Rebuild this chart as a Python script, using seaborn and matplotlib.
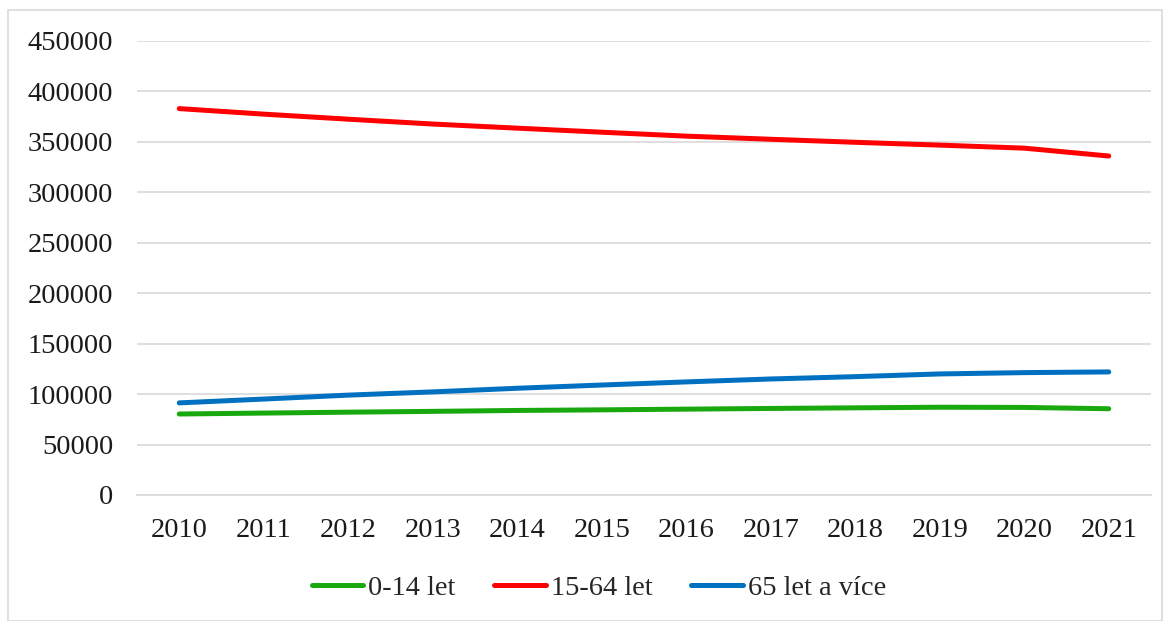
import matplotlib
matplotlib.use("Agg")
import matplotlib.pyplot as plt
import seaborn as sns
import pandas as pd
from matplotlib.patches import Rectangle
from matplotlib.lines import Line2D

years = [2010, 2011, 2012, 2013, 2014, 2015, 2016, 2017, 2018, 2019, 2020, 2021]
age_0_14 = [80300, 81200, 82100, 82900, 83800, 84400, 85100, 85800, 86400, 87000, 86800, 85500]
age_15_64 = [383000, 377500, 372500, 367700, 363600, 359600, 355700, 352600, 349600, 346800, 343800, 336000]
age_65 = [91300, 95100, 99000, 102200, 105800, 109000, 112100, 115000, 117300, 120000, 121300, 122000]
series_names = ["0-14 let", "15-64 let", "65 let a více"]
colors = ["#1aa80f", "#ff0000", "#0070c0"]
y_ticks = [0, 50000, 100000, 150000, 200000, 250000, 300000, 350000, 400000, 450000]

df = pd.DataFrame({
    "rok": years * 3,
    "hodnota": age_0_14 + age_15_64 + age_65,
    "skupina": [series_names[0]] * len(years) + [series_names[1]] * len(years) + [series_names[2]] * len(years),
})
df["pos"] = df["rok"] - years[0]

sns.set_theme(style="white")
plt.rcParams["font.family"] = ["Liberation Serif", "DejaVu Serif"]

FS = 20.5
LW = 3.6
fig = plt.figure(figsize=(11.7, 6.21), dpi=100)
ax = fig.add_axes([137/1170, 1 - 495/621, (1151-137)/1170, (495-41)/621])

sns.lineplot(data=df, x="pos", y="hodnota", hue="skupina", palette=colors,
             hue_order=series_names, linewidth=LW, ax=ax, legend=False,
             solid_capstyle="round")

ax.set_xlim(-0.5, len(years) - 0.5)
ax.set_ylim(0, 450000)
ax.set_yticks(y_ticks)
ax.set_yticklabels([str(v) for v in y_ticks], fontsize=FS, color="#1a1a1a")
ax.set_xticks(range(len(years)))
ax.set_xticklabels([str(y) for y in years], fontsize=FS, color="#1a1a1a")
ax.tick_params(axis="both", length=0)
ax.tick_params(axis="y", pad=17)
ax.tick_params(axis="x", pad=16.5)
ax.yaxis.grid(True, color="#d9d9d9", linewidth=1.2)
ax.set_axisbelow(True)
for s in ["top", "right", "left"]:
    ax.spines[s].set_visible(False)
ax.spines["bottom"].set_color("#d9d9d9")
ax.spines["bottom"].set_linewidth(1.2)
ax.set_xlabel("")
ax.set_ylabel("")

handles = [Line2D([0], [0], color=c, linewidth=LW, solid_capstyle="round") for c in colors]
fig.legend(handles, series_names, loc="center", bbox_to_anchor=(599/1170, 1 - 588/621),
           ncol=3, frameon=False, fontsize=FS, handlelength=1.8, handletextpad=0.2,
           columnspacing=1.35, borderpad=0, borderaxespad=0)

fig.patches.append(Rectangle((8/1170, 0), (1162-8)/1170, 1 - 10/621, transform=fig.transFigure,
                             fill=False, edgecolor="#d9d9d9", linewidth=1.2))

fig.savefig("out.png", dpi=100)
